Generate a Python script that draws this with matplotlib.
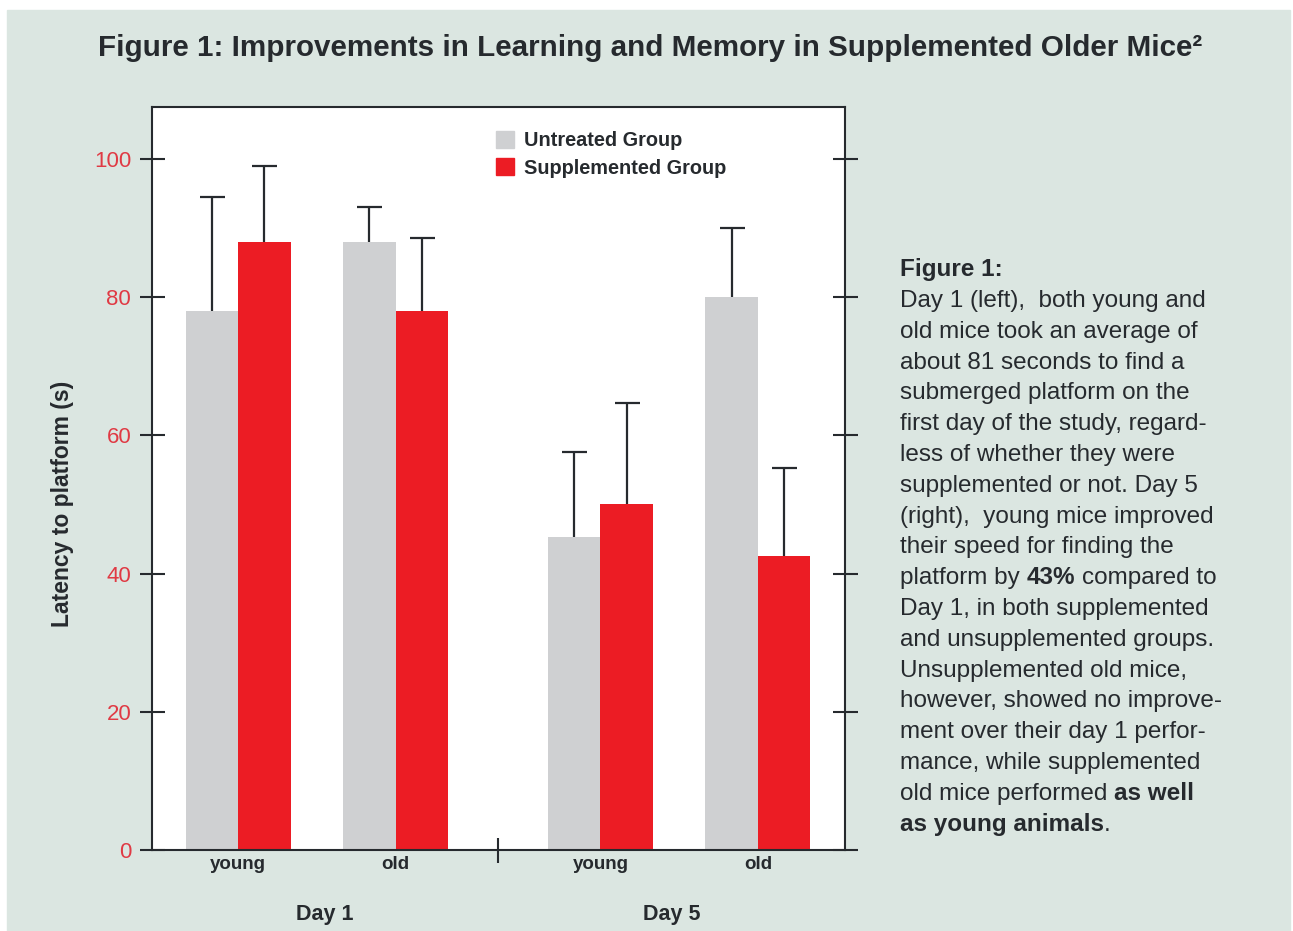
import matplotlib
matplotlib.use("Agg")
import matplotlib.pyplot as plt
from matplotlib.patches import Patch, Rectangle
import numpy as np

# data
days = ["Day 1", "Day 5"]
ages = ["young", "old", "young", "old"]
untreated = [78, 88, 45.3, 80]
untreated_err = [16.5, 5, 12.3, 10]
supplemented = [88, 78, 50, 42.5]
supplemented_err = [11, 10.5, 14.7, 12.7]
legend_labels = ["Untreated Group", "Supplemented Group"]
yticks = [0, 20, 40, 60, 80, 100]

GRAY = "#cfd0d2"
RED = "#ec1c24"
BG = "#dbe6e1"
DARK = "#262a2e"
TICKRED = "#e03a44"

plt.rcParams["font.family"] = ["Liberation Sans", "DejaVu Sans"]

fig = plt.figure(figsize=(12.93, 9.31), dpi=100)
fig.patch.set_facecolor("white")
fig.patches.append(Rectangle((7 / 1293, 0), 1283 / 1293, 921 / 931,
                             transform=fig.transFigure, color=BG, zorder=-10))

ax = fig.add_axes([152 / 1293, 81 / 931, 693 / 1293, 743 / 931])
ax.set_facecolor("white")

centers = np.array([0, 3, 6.9, 9.9])
w = 1.0
ax.bar(centers - w / 2, untreated, w, color=GRAY, zorder=2)
ax.bar(centers + w / 2, supplemented, w, color=RED, zorder=2)
# drawn under the bars so only the upper half shows
ekw = dict(fmt="none", ecolor=DARK, elinewidth=1.6, capsize=9, capthick=1.6, zorder=1)
ax.errorbar(centers - w / 2, untreated, yerr=untreated_err, **ekw)
ax.errorbar(centers + w / 2, supplemented, yerr=supplemented_err, **ekw)

ax.set_xlim(-1.64, 11.56)
ax.set_ylim(0, 107.5)

for s in ax.spines.values():
    s.set_color(DARK)
    s.set_linewidth(1.5)

ax.set_yticks(yticks)
ax.set_yticklabels([str(t) for t in yticks], color=TICKRED, fontsize=16)
ax.tick_params(axis="y", which="major", direction="inout", length=18, width=1.5,
               color=DARK, right=True, pad=6)

ax.set_xticks(centers)
ax.set_xticklabels(ages, fontsize=13.5, fontweight="bold", color=DARK)
ax.tick_params(axis="x", which="major", length=0, pad=4)
ax.set_xticks([(centers[1] + centers[2]) / 2], minor=True)
ax.tick_params(axis="x", which="minor", direction="inout", length=18, width=1.5, color=DARK)

for d, xf in zip(days, [0.25, 0.75]):
    ax.text(xf, -0.087, d, transform=ax.transAxes, ha="center", va="center",
            fontsize=15.5, fontweight="bold", color=DARK)

ax.set_ylabel("Latency to platform (s)", fontsize=16.5, fontweight="bold", color=DARK)
ax.yaxis.set_label_coords(-0.112, 0.466)

handles = [Patch(color=GRAY), Patch(color=RED)]
ax.legend(handles, legend_labels, loc="upper left", bbox_to_anchor=(0.482, 0.981),
          frameon=False, handlelength=0.9, handleheight=0.9, handletextpad=0.5,
          labelspacing=0.42, borderpad=0,
          prop={"weight": "bold", "size": 14.3}, labelcolor=DARK)

fig.text(650 / 1293, 1 - 48 / 931, "Figure 1: Improvements in Learning and Memory in Supplemented Older Mice\u00b2",
         ha="center", va="center", fontsize=21.3, fontweight="bold", color=DARK)

# side caption, bold parts kept as separate pieces
caption = [
    [("Day 1 (left),  both young and", False)],
    [("old mice took an average of", False)],
    [("about 81 seconds to find a", False)],
    [("submerged platform on the", False)],
    [("first day of the study, regard-", False)],
    [("less of whether they were", False)],
    [("supplemented or not. Day 5", False)],
    [("(right),  young mice improved", False)],
    [("their speed for finding the", False)],
    [("platform by", False), ("43%", True), ("compared to", False)],
    [("Day 1, in both supplemented", False)],
    [("and unsupplemented groups.", False)],
    [("Unsupplemented old mice,", False)],
    [("however, showed no improve-", False)],
    [("ment over their day 1 perfor-", False)],
    [("mance, while supplemented", False)],
    [("old mice performed", False), ("as well", True)],
    [("as young animals", True), (".", False)],
]
FS = 17.5
x0 = 900 / 1293
fig.text(x0, 1 - 270 / 931, "Figure 1:", ha="left", va="center", fontsize=FS,
         fontweight="bold", color=DARK)
for i, parts in enumerate(caption):
    y = 1 - (301 + i * 30.8) / 931
    prev = None
    for txt, bold in parts:
        kw = dict(fontsize=FS, color=DARK, fontweight="bold" if bold else "normal",
                  ha="left", va="bottom")
        if prev is None:
            prev = fig.text(x0, y, txt, **kw)
            prev.set_va("center")
        else:
            gap = 0 if txt == "." else 4.8
            prev = ax.annotate(txt, xy=(1, 0), xycoords=prev, xytext=(gap, 0),
                               textcoords="offset points", annotation_clip=False, **kw)

fig.savefig("out.png", dpi=100, facecolor=fig.get_facecolor())
